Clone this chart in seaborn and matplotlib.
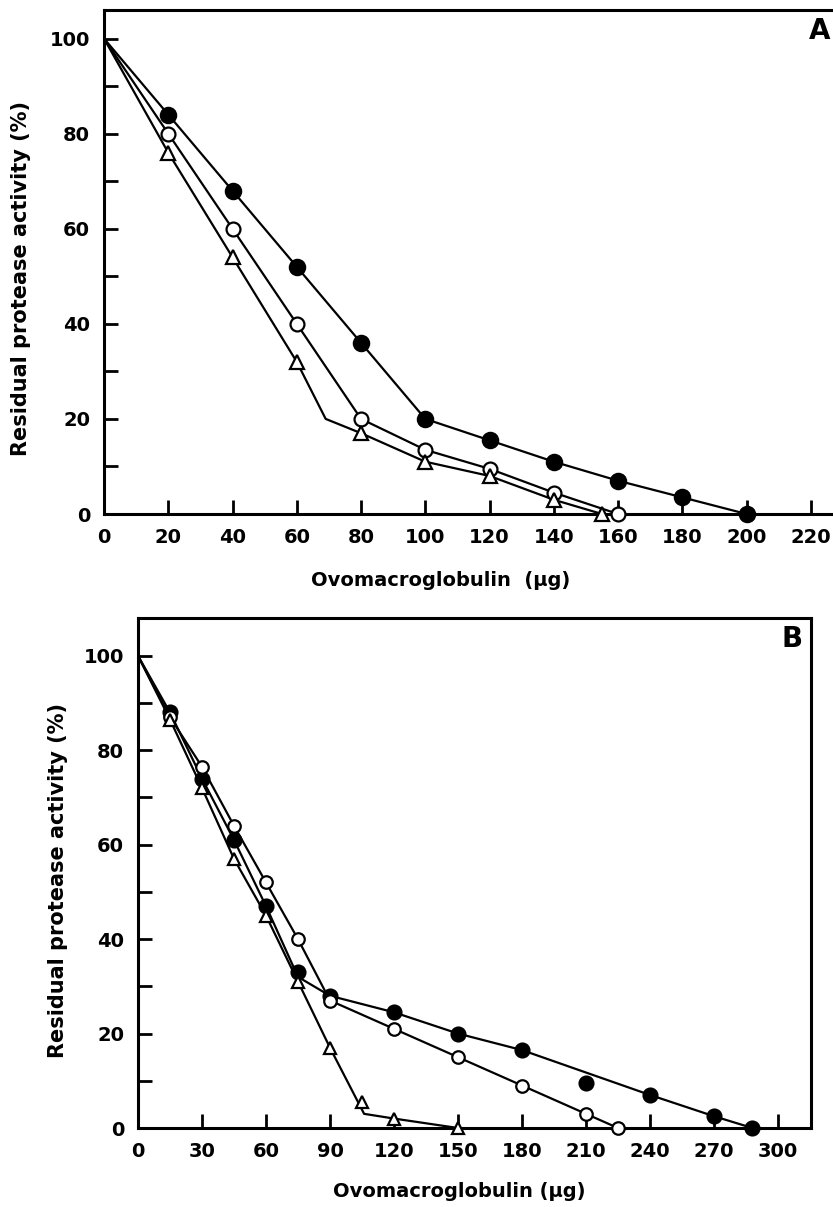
import numpy as np
import pandas as pd
import matplotlib
matplotlib.use("Agg")
import matplotlib.pyplot as plt
import seaborn as sns
from matplotlib.ticker import MultipleLocator

# Panel A data
a_filled_x = [0, 20, 40, 60, 80, 100, 120, 140, 160, 180, 200]
a_filled_y = [100, 84, 68, 52, 36, 20, 15.5, 11, 7, 3.5, 0]
a_open_x = [0, 20, 40, 60, 80, 100, 120, 140, 160]
a_open_y = [100, 80, 60, 40, 20, 13.5, 9.5, 4.5, 0]
a_tri_x = [0, 20, 40, 60, 80, 100, 120, 140, 155]
a_tri_y = [100, 76, 54, 32, 17, 11, 8, 3, 0]
# triangle line has a kink with no marker
a_tri_line_x = [0, 20, 40, 60, 69, 80, 100, 120, 140, 155]
a_tri_line_y = [100, 76, 54, 32, 20, 17, 11, 8, 3, 0]

# Panel B data
b_filled_x = [0, 15, 30, 45, 60, 75, 90, 120, 150, 180, 210, 240, 270, 288]
b_filled_y = [100, 88, 74, 61, 47, 33, 28, 24.5, 20, 16.5, 9.5, 7, 2.5, 0]
# the 210 point sits off the drawn line
b_filled_line_x = [0, 15, 30, 45, 60, 75, 90, 120, 150, 180, 240, 270, 288]
b_filled_line_y = [100, 88, 74, 61, 47, 32, 28, 24.5, 20, 16.5, 7, 2.5, 0]
b_open_x = [0, 15, 30, 45, 60, 75, 90, 120, 150, 180, 210, 225]
b_open_y = [100, 87, 76.5, 64, 52, 40, 27, 21, 15, 9, 3, 0]
b_tri_x = [0, 15, 30, 45, 60, 75, 90, 105, 120, 150]
b_tri_y = [100, 86.5, 72, 57, 45, 31, 17, 5.5, 2, 0]
b_tri_line_x = [0, 15, 30, 45, 60, 75, 90, 106, 120, 150]
b_tri_line_y = [100, 86.5, 72, 57, 45, 31, 17, 3, 2, 0]

sns.set_style("ticks")
plt.rcParams['font.family'] = ['DejaVu Sans']
plt.rcParams['font.weight'] = 'bold'
plt.rcParams['text.color'] = 'black'
plt.rcParams['axes.labelcolor'] = 'black'
plt.rcParams['xtick.color'] = 'black'
plt.rcParams['ytick.color'] = 'black'
plt.rcParams['axes.edgecolor'] = 'black'

fig = plt.figure(figsize=(8.33, 12.07), dpi=100)
axA = fig.add_axes([104 / 833, 693 / 1207, 755 / 833, 504 / 1207])
axB = fig.add_axes([138 / 833, 79 / 1207, 673 / 833, 510 / 1207])


def draw_line(ax, x, y):
    sns.lineplot(x=x, y=y, ax=ax, color="black", lw=1.6, sort=False,
                 estimator=None, zorder=2)


def draw_pts(ax, x, y, marker, filled, size):
    ax.plot(x, y, ls="none", marker=marker, ms=size, mew=1.6,
            mfc="black" if filled else "white", mec="black", zorder=3,
            clip_on=False)


# panel A
draw_line(axA, a_filled_x, a_filled_y)
draw_line(axA, a_open_x, a_open_y)
draw_line(axA, a_tri_line_x, a_tri_line_y)
draw_pts(axA, a_filled_x[1:], a_filled_y[1:], "o", True, 11)
draw_pts(axA, a_open_x[1:], a_open_y[1:], "o", False, 10)
draw_pts(axA, a_tri_x[1:], a_tri_y[1:], "^", False, 10)

# panel B
draw_line(axB, b_filled_line_x, b_filled_line_y)
draw_line(axB, b_open_x, b_open_y)
draw_line(axB, b_tri_line_x, b_tri_line_y)
draw_pts(axB, b_filled_x[1:], b_filled_y[1:], "o", True, 10)
draw_pts(axB, b_open_x[1:], b_open_y[1:], "o", False, 9)
draw_pts(axB, b_tri_x[1:], b_tri_y[1:], "^", False, 9)

axA.set_xlim(0, 235)
axA.set_ylim(0, 106)
axA.xaxis.set_major_locator(MultipleLocator(20))
axB.set_xlim(0, 315.5)
axB.set_ylim(0, 108)
axB.xaxis.set_major_locator(MultipleLocator(30))

for ax in (axA, axB):
    ax.yaxis.set_major_locator(MultipleLocator(20))
    ax.yaxis.set_minor_locator(MultipleLocator(10))
    ax.tick_params(which="both", direction="in", length=10, width=2,
                   labelsize=14, pad=10)
    for s in ax.spines.values():
        s.set_linewidth(2.2)
    ax.set_ylabel("Residual protease activity (%)", fontsize=15,
                  fontweight="bold", va="center")
    for lbl in ax.get_xticklabels() + ax.get_yticklabels():
        lbl.set_fontweight("bold")

axA.set_xlabel("Ovomacroglobulin  (\u03bcg)", fontsize=14, fontweight="bold",
               va="center")
axB.set_xlabel("Ovomacroglobulin (\u03bcg)", fontsize=14, fontweight="bold",
               va="center")
axA.yaxis.set_label_coords(-0.110, 0.468)
axB.yaxis.set_label_coords(-0.119, 0.486)
axA.xaxis.set_label_coords(0.446, -0.131)
axB.xaxis.set_label_coords(0.478, -0.124)

fig.text(830 / 833, 1 - 31 / 1207, "A", fontsize=20, fontweight="bold",
         ha="right", va="center")
axB.text(0.988, 0.958, "B", transform=axB.transAxes, fontsize=20,
         fontweight="bold", ha="right", va="center")

fig.savefig("out.png", dpi=100)
